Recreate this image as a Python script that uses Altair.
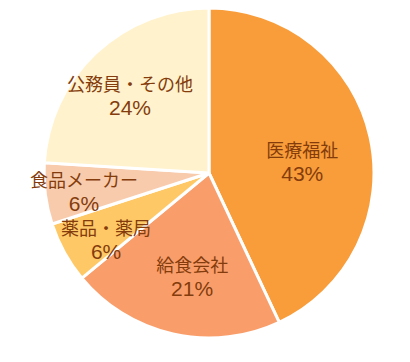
import altair as alt
import pandas as pd
import math

categories = ["医療福祉", "給食会社", "薬品・薬局", "食品メーカー", "公務員・その他"]
values = [43, 21, 6, 6, 24]
colors = ["#F99D3A", "#F99E6B", "#FFC866", "#F8CBAD", "#FFF2CC"]

df = pd.DataFrame({
    "category": categories,
    "value": values,
    "order": list(range(len(categories))),
    "pct": [f"{v}%" for v in values],
})

# label nudges (styling): offset from the slice mid-angle anchor
nudges = {
    "医療福祉": (-18, 15),
    "給食会社": (8, -6),
    "薬品・薬局": (-3, 13),
    "食品メーカー": (-12, 6),
    "公務員・その他": (-1, 7),
}

total = sum(values)
cx, cy = 201, 165
tscale = alt.Scale(domain=[0, total], range=[0, 2 * math.pi])
order = alt.Order("order:Q")
color = alt.Color("category:N", scale=alt.Scale(domain=categories, range=colors), legend=None)

base = alt.Chart(df)

arcs = base.mark_arc(outerRadius=165, stroke="white", strokeWidth=3).encode(
    theta=alt.Theta("value:Q", stack=True, scale=tscale), order=order, color=color,
    x=alt.value(cx), y=alt.value(cy),
)

brown = "#843C0C"

labbase = base.transform_window(
    cum="sum(value)", sort=[alt.SortField("order")], frame=[None, 0]
).transform_calculate(mid="datum.cum - datum.value / 2")

layers = [arcs]
for cat in categories:
    ndx, ndy = nudges[cat]
    for field, dy, size, font in (("category", -11, 18, "Noto Sans CJK JP"),
                                  ("pct", 12, 21, "Liberation Sans")):
        layers.append(
            labbase.transform_filter(alt.datum.category == cat)
            .mark_text(radius=114, dx=ndx, dy=dy + ndy, fontSize=size, font=font, color=brown)
            .encode(
                theta=alt.Theta("mid:Q", scale=tscale, stack=None),
                text=f"{field}:N",
                x=alt.value(cx), y=alt.value(cy),
            )
        )

chart = alt.layer(*layers).properties(
    width=394, height=346, padding=0, autosize="none"
).configure_view(stroke=None)

chart.save("out.html", embed_options={"renderer": "svg", "actions": False})
